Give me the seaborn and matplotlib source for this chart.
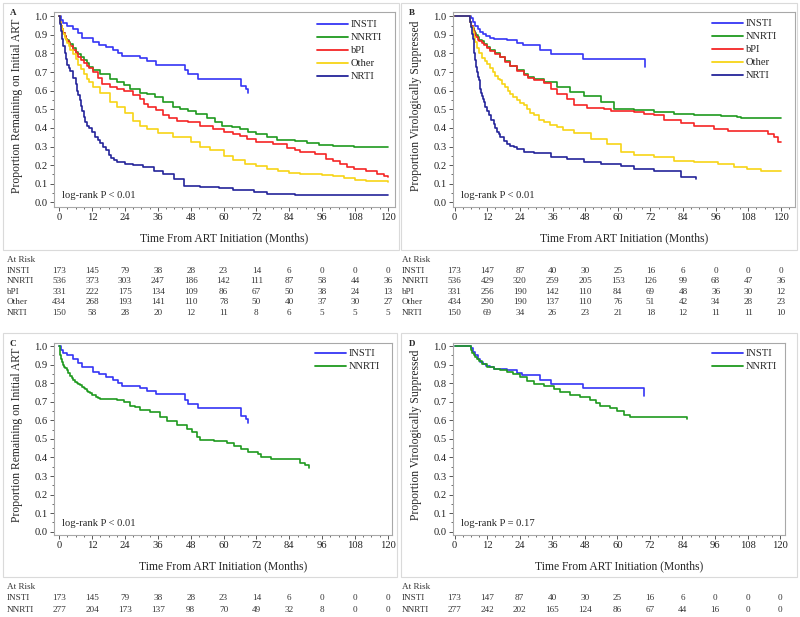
import pandas as pd
import seaborn as sns
import matplotlib.pyplot as plt
import matplotlib.transforms as mtransforms
from matplotlib.lines import Line2D
from matplotlib.patches import Rectangle
from matplotlib.ticker import MultipleLocator

# -------------------------------
# Kaplan-Meier curves (time in months, step values)
# -------------------------------
# Panel A: remaining on initial ART
a_insti_t = [0, 0.5, 1.5, 3, 5, 7, 8.5, 12.5, 14.5, 17, 19.5, 21.5, 23, 29.5, 32, 35.5, 46, 47, 50.5, 66.5, 68.3, 69]
a_insti_s = [1.0, 0.98, 0.965, 0.95, 0.93, 0.91, 0.885, 0.86, 0.848, 0.835, 0.82, 0.80, 0.787, 0.775, 0.76, 0.74, 0.71,
             0.69, 0.665, 0.625, 0.61, 0.585]

a_nnrti_t = [0, 0.3, 0.6, 1, 1.5, 2, 2.5, 3, 3.5, 4, 5, 6, 7, 8, 9, 10, 11, 12.5, 15, 18.5, 21, 23.5, 26, 29.5, 32, 35,
             38, 41.5, 44, 47, 50, 54, 57, 59.5, 63, 66, 69, 72, 76, 79.5, 86, 90.5, 95, 100, 107.5, 120]
a_nnrti_s = [1.0, 0.97, 0.95, 0.93, 0.91, 0.895, 0.88, 0.87, 0.86, 0.85, 0.83, 0.81, 0.795, 0.78, 0.765, 0.75, 0.73,
             0.71, 0.69, 0.665, 0.645, 0.628, 0.61, 0.59, 0.58, 0.565, 0.54, 0.51, 0.50, 0.49, 0.475, 0.455, 0.43, 0.41,
             0.405, 0.395, 0.38, 0.37, 0.35, 0.335, 0.33, 0.318, 0.31, 0.303, 0.297, 0.297]

a_bpi_t = [0, 0.3, 0.6, 1, 1.5, 2, 2.5, 3, 3.5, 4, 5, 6, 7, 8, 9, 10, 11, 12.5, 14, 15.5, 18.5, 21, 23.5, 27, 29.5, 31,
           32.5, 35.5, 38, 40, 43, 47, 51.5, 56, 60, 63.5, 66, 68.5, 72, 78, 83, 86, 88, 93.5, 97.5, 100, 102.5, 105,
           107.5, 112, 116, 118.5, 120]
a_bpi_s = [1.0, 0.97, 0.95, 0.93, 0.91, 0.895, 0.88, 0.865, 0.855, 0.84, 0.82, 0.80, 0.78, 0.765, 0.75, 0.735, 0.72,
           0.70, 0.67, 0.635, 0.62, 0.61, 0.60, 0.575, 0.555, 0.53, 0.51, 0.495, 0.47, 0.455, 0.436, 0.43, 0.408, 0.395,
           0.38, 0.365, 0.355, 0.34, 0.325, 0.315, 0.29, 0.28, 0.27, 0.26, 0.235, 0.22, 0.205, 0.19, 0.18, 0.17, 0.155,
           0.14, 0.135]

a_other_t = [0, 0.3, 0.6, 1, 1.5, 2, 2.5, 3, 3.5, 4, 5, 6, 7, 8, 9, 10, 11, 12.5, 15, 18.5, 21, 24, 27, 29.5, 32, 36,
             41.5, 48, 51.5, 55, 60, 63.5, 68, 72, 76, 80, 84, 88, 96, 100, 104, 108, 112, 120]
a_other_s = [1.0, 0.97, 0.95, 0.93, 0.905, 0.885, 0.87, 0.855, 0.84, 0.82, 0.795, 0.77, 0.74, 0.715, 0.69, 0.665, 0.645,
             0.62, 0.585, 0.54, 0.51, 0.48, 0.435, 0.41, 0.395, 0.375, 0.35, 0.323, 0.30, 0.28, 0.25, 0.225, 0.205, 0.195,
             0.18, 0.17, 0.16, 0.155, 0.145, 0.14, 0.13, 0.12, 0.115, 0.108]

a_nrti_t = [0, 0.3, 0.6, 1, 1.5, 2, 2.5, 3, 3.5, 4, 5, 6, 6.5, 7, 7.5, 8, 8.5, 9, 9.5, 10, 11, 12, 13, 14, 15, 16, 17,
            18, 19, 20, 21, 24, 27, 30.5, 34.5, 38, 42, 45.5, 51.5, 58.5, 63.5, 71, 76, 86, 120]
a_nrti_s = [1.0, 0.96, 0.92, 0.88, 0.84, 0.80, 0.77, 0.74, 0.72, 0.705, 0.67, 0.635, 0.60, 0.575, 0.55, 0.52, 0.49, 0.46,
            0.43, 0.41, 0.40, 0.38, 0.35, 0.335, 0.32, 0.30, 0.28, 0.255, 0.24, 0.225, 0.215, 0.205, 0.20, 0.188, 0.167,
            0.15, 0.126, 0.09, 0.08, 0.075, 0.065, 0.055, 0.045, 0.037, 0.037]

# Panel B: virologically suppressed
b_insti_t = [0, 6, 6.8, 7.6, 8.5, 9.5, 10.5, 11.5, 13, 14.5, 19.3, 23, 25, 31.5, 35.5, 47.2, 70]
b_insti_s = [1.0, 0.99, 0.97, 0.95, 0.93, 0.915, 0.905, 0.895, 0.885, 0.878, 0.87, 0.855, 0.845, 0.817, 0.797, 0.772, 0.73]

b_nnrti_t = [0, 5.8, 6.2, 6.6, 7, 7.5, 8, 8.5, 9, 10, 10.7, 12, 13.1, 15, 16.8, 18.5, 20.5, 23, 25.4, 27, 29.1, 32.8,
             37.7, 42.6, 47.5, 53.7, 58.6, 66, 73.3, 80.7, 88.1, 97.9, 104, 105.3, 120]
b_nnrti_s = [1.0, 0.97, 0.95, 0.935, 0.92, 0.91, 0.90, 0.89, 0.875, 0.865, 0.853, 0.835, 0.817, 0.80, 0.78, 0.76, 0.735,
             0.71, 0.69, 0.675, 0.664, 0.646, 0.62, 0.592, 0.574, 0.539, 0.503, 0.494, 0.488, 0.476, 0.467, 0.463, 0.458,
             0.454, 0.454]

b_bpi_t = [0, 5.8, 6.2, 6.6, 7, 7.5, 8, 8.5, 9, 10, 10.7, 12, 13.1, 15, 16.8, 18.5, 20.5, 23, 25.4, 27, 29.1, 32.8,
           35.5, 37.7, 41.4, 43.9, 48.8, 54.9, 57.4, 66, 69.7, 73.3, 77, 83.2, 88.1, 95.5, 100.4, 115.1, 117.6, 118.8, 120]
b_bpi_s = [1.0, 0.97, 0.95, 0.93, 0.915, 0.90, 0.89, 0.875, 0.865, 0.855, 0.845, 0.83, 0.815, 0.795, 0.78, 0.755, 0.735,
           0.705, 0.685, 0.67, 0.66, 0.64, 0.61, 0.583, 0.557, 0.521, 0.508, 0.503, 0.49, 0.485, 0.476, 0.467, 0.44,
           0.425, 0.408, 0.395, 0.386, 0.368, 0.35, 0.323, 0.323]

b_other_t = [0, 5.8, 6.2, 6.6, 7, 7.6, 8.2, 9, 10, 11, 12, 13, 14, 15, 16, 16.8, 17.5, 18.5, 19.5, 20.5, 21.5, 23, 24,
             25.4, 26.5, 27.8, 29.1, 31, 32.8, 35, 37.7, 40, 43.9, 50, 56.1, 61.1, 66, 73.3, 80.7, 88.1, 96.7, 102.8,
             107.7, 112.7, 120]
b_other_s = [1.0, 0.97, 0.94, 0.915, 0.89, 0.86, 0.83, 0.80, 0.775, 0.76, 0.745, 0.72, 0.70, 0.68, 0.665, 0.655, 0.635,
             0.62, 0.60, 0.583, 0.565, 0.55, 0.535, 0.521, 0.50, 0.48, 0.467, 0.445, 0.431, 0.418, 0.404, 0.39, 0.372,
             0.341, 0.314, 0.27, 0.257, 0.242, 0.224, 0.215, 0.206, 0.192, 0.18, 0.17, 0.17]

b_nrti_t = [0, 5.8, 6.1, 6.4, 6.7, 7, 7.3, 7.6, 7.9, 8.2, 8.5, 8.8, 9.2, 9.5, 9.8, 10.1, 10.4, 10.7, 11, 11.3, 11.9,
            12.5, 13.5, 14.4, 15, 15.5, 16.2, 16.8, 18, 19.3, 20.5, 21.7, 23, 25.4, 29.1, 35.3, 41.4, 47.5, 53.7, 61.1,
            66, 73.3, 79.5, 83.2, 88.7]
b_nrti_s = [1.0, 0.97, 0.94, 0.907, 0.88, 0.85, 0.80, 0.763, 0.73, 0.70, 0.675, 0.655, 0.63, 0.61, 0.59, 0.574, 0.555,
            0.54, 0.525, 0.512, 0.49, 0.467, 0.445, 0.422, 0.40, 0.38, 0.365, 0.35, 0.33, 0.314, 0.305, 0.296, 0.285,
            0.27, 0.264, 0.246, 0.233, 0.215, 0.206, 0.194, 0.18, 0.17, 0.167, 0.135, 0.126]

# Panel C: remaining on initial ART, INSTI vs NNRTI subset
c_nnrti_t = [0, 0.2, 0.4, 0.7, 1, 1.4, 1.8, 2.2, 2.7, 3.3, 4, 4.5, 5.1, 5.8, 6.5, 7, 7.6, 8.3, 9, 9.5, 10, 10.6, 11.3,
             12, 12.5, 13.5, 14.2, 14.9, 21, 23.5, 25.9, 27.5, 29.6, 33.2, 36.9, 39.4, 43, 46.7, 48.5, 50.4, 51.5, 56.5,
             61.4, 63.8, 66.3, 68.8, 72.4, 73.6, 77.3, 88, 89.9, 91.3]
c_nnrti_s = [1.0, 0.97, 0.95, 0.93, 0.915, 0.90, 0.89, 0.88, 0.87, 0.855, 0.84, 0.83, 0.815, 0.805, 0.80, 0.795, 0.788,
             0.78, 0.775, 0.768, 0.76, 0.752, 0.745, 0.738, 0.734, 0.725, 0.718, 0.713, 0.71, 0.697, 0.679, 0.67, 0.656,
             0.643, 0.616, 0.598, 0.576, 0.556, 0.535, 0.51, 0.495, 0.488, 0.48, 0.462, 0.444, 0.432, 0.42, 0.40, 0.39,
             0.371, 0.359, 0.341]

# Panel D: virologically suppressed, INSTI vs NNRTI subset
d_nnrti_t = [0, 6, 6.5, 7, 7.6, 8.2, 9, 10.1, 11.9, 14.4, 16.8, 19.3, 21.7, 24.2, 26.7, 29.1, 32.8, 36.5, 38.9, 42.6,
             46.3, 50, 52, 53.7, 57.4, 59.8, 62.3, 64.7, 85.6]
d_nnrti_s = [1.0, 0.98, 0.965, 0.95, 0.94, 0.93, 0.92, 0.905, 0.89, 0.879, 0.87, 0.86, 0.848, 0.833, 0.812, 0.797, 0.783,
             0.77, 0.752, 0.739, 0.728, 0.71, 0.695, 0.679, 0.667, 0.649, 0.63, 0.62, 0.607]

# -------------------------------
# Numbers at risk
# -------------------------------
risk_months = [0, 12, 24, 36, 48, 60, 72, 84, 96, 108, 120]
risk_a = {
    "INSTI": [173, 145, 79, 38, 28, 23, 14, 6, 0, 0, 0],
    "NNRTI": [536, 373, 303, 247, 186, 142, 111, 87, 58, 44, 36],
    "bPI": [331, 222, 175, 134, 109, 86, 67, 50, 38, 24, 13],
    "Other": [434, 268, 193, 141, 110, 78, 50, 40, 37, 30, 27],
    "NRTI": [150, 58, 28, 20, 12, 11, 8, 6, 5, 5, 5],
}
risk_b = {
    "INSTI": [173, 147, 87, 40, 30, 25, 16, 6, 0, 0, 0],
    "NNRTI": [536, 429, 320, 259, 205, 153, 126, 99, 68, 47, 36],
    "bPI": [331, 256, 190, 142, 110, 84, 69, 48, 36, 30, 12],
    "Other": [434, 290, 190, 137, 110, 76, 51, 42, 34, 28, 23],
    "NRTI": [150, 69, 34, 26, 23, 21, 18, 12, 11, 11, 10],
}
risk_c = {
    "INSTI": [173, 145, 79, 38, 28, 23, 14, 6, 0, 0, 0],
    "NNRTI": [277, 204, 173, 137, 98, 70, 49, 32, 8, 0, 0],
}
risk_d = {
    "INSTI": [173, 147, 87, 40, 30, 25, 16, 6, 0, 0, 0],
    "NNRTI": [277, 242, 202, 165, 124, 86, 67, 44, 16, 0, 0],
}

palette = {"INSTI": "#3535F5", "NNRTI": "#1F9A1F", "bPI": "#F52525", "Other": "#F7D417", "NRTI": "#24249A"}


def km_frame(curves):
    parts = [pd.DataFrame({"time": t, "surv": s, "group": g}) for g, (t, s) in curves.items()]
    return pd.concat(parts, ignore_index=True)


sns.set_theme(style="ticks")
plt.rcParams["font.family"] = ["Liberation Serif", "DejaVu Serif"]
plt.rcParams["axes.edgecolor"] = "#A8A8A8"
plt.rcParams["xtick.color"] = "#555555"
plt.rcParams["ytick.color"] = "#555555"
plt.rcParams["xtick.labelcolor"] = "#222222"
plt.rcParams["ytick.labelcolor"] = "#222222"

W, H = 800, 617
fig = plt.figure(figsize=(W / 100, H / 100), dpi=100)


def add_ax(x0, y0, x1, y1):
    return fig.add_axes([x0 / W, 1 - y1 / H, (x1 - x0) / W, (y1 - y0) / H])


panels = [
    dict(box=(54, 12, 395, 207), xlim=(-1.9, 122.6), ylim=(-0.025, 1.023), letter="A",
         ylabel="Proportion Remaining on Initial ART", pval="log-rank P < 0.01",
         curves={"INSTI": (a_insti_t, a_insti_s), "NNRTI": (a_nnrti_t, a_nnrti_s), "bPI": (a_bpi_t, a_bpi_s),
                 "Other": (a_other_t, a_other_s), "NRTI": (a_nrti_t, a_nrti_s)},
         risk=risk_a, risk_y=[260.5, 271, 281.5, 292, 302.5, 313], leg=(317, 20)),
    dict(box=(453, 12, 795, 207), xlim=(-0.6, 125.2), ylim=(-0.025, 1.023), letter="B",
         ylabel="Proportion Virologically Suppressed", pval="log-rank P < 0.01",
         curves={"INSTI": (b_insti_t, b_insti_s), "NNRTI": (b_nnrti_t, b_nnrti_s), "bPI": (b_bpi_t, b_bpi_s),
                 "Other": (b_other_t, b_other_s), "NRTI": (b_nrti_t, b_nrti_s)},
         risk=risk_b, risk_y=[260.5, 271, 281.5, 292, 302.5, 313], leg=(712, 19)),
    dict(box=(54, 343, 392, 535), xlim=(-1.9, 121.5), ylim=(-0.018, 1.017), letter="C",
         ylabel="Proportion Remaining on Initial ART", pval="log-rank P < 0.01",
         curves={"INSTI": (a_insti_t, a_insti_s), "NNRTI": (c_nnrti_t, c_nnrti_s)},
         risk=risk_c, risk_y=[587, 598.5, 610], leg=(315, 349)),
    dict(box=(453, 343, 785, 535), xlim=(-0.6, 121.8), ylim=(-0.018, 1.017), letter="D",
         ylabel="Proportion Virologically Suppressed", pval="log-rank P = 0.17",
         curves={"INSTI": (b_insti_t, b_insti_s), "NNRTI": (d_nnrti_t, d_nnrti_s)},
         risk=risk_d, risk_y=[587, 598.5, 610], leg=(712, 349)),
]

# light grey frames around each panel
for (x0, y0, x1, y1) in [(3, 3, 399, 250), (401, 3, 797, 250), (3, 333, 397, 577), (401, 333, 797, 577)]:
    fig.patches.append(Rectangle((x0 / W, 1 - y1 / H), (x1 - x0) / W, (y1 - y0) / H, transform=fig.transFigure,
                                 fill=False, edgecolor="#DADADA", lw=0.8))

for p in panels:
    x0, y0, x1, y1 = p["box"]
    bw, bh = x1 - x0, y1 - y0
    ax = add_ax(x0, y0, x1, y1)
    df = km_frame(p["curves"])
    order = list(p["curves"].keys())
    sns.lineplot(data=df, x="time", y="surv", hue="group", hue_order=order, palette=palette,
                 estimator=None, sort=False, drawstyle="steps-post", lw=1.2, legend=False, ax=ax)

    ax.set_xlim(*p["xlim"])
    ax.set_ylim(*p["ylim"])
    ax.set_xticks(risk_months)
    ax.set_yticks([i / 10 for i in range(11)])
    ax.set_yticklabels([f"{i / 10:.1f}" for i in range(11)])
    ax.xaxis.set_minor_locator(MultipleLocator(3))
    ax.yaxis.set_minor_locator(MultipleLocator(0.05))
    ax.tick_params(which="major", length=3, width=0.7, pad=1.5, labelsize=7.6)
    ax.tick_params(which="minor", length=1.6, width=0.6)
    for sp in ax.spines.values():
        sp.set_visible(True)
        sp.set_linewidth(0.8)

    ax.set_xlabel("Time From ART Initiation (Months)", fontsize=8.4, va="center")
    ax.xaxis.set_label_coords(0.5, -31 / bh)
    ax.set_ylabel(p["ylabel"], fontsize=8.4, va="center")
    ax.yaxis.set_label_coords((17 - 54) / bw, 0.52)

    ax.text(8 / bw, 12 / bh, p["pval"], transform=ax.transAxes, fontsize=7.6, ha="left", va="center")

    # legend
    lx, ly = p["leg"]
    handles = [Line2D([], [], color=palette[g], lw=1.3) for g in order]
    ax.legend(handles, order, loc="upper left", bbox_to_anchor=((lx - x0) / bw, (y1 - ly) / bh),
              frameon=False, fontsize=7.6, handlelength=2.9, handletextpad=0.3, labelspacing=0.34,
              borderpad=0, borderaxespad=0)

    # panel letter
    fig.text((x0 - 44) / W, 1 - (y0 + 1) / H, p["letter"], fontsize=6.5, fontweight="bold", ha="left", va="center")

    # at-risk table
    trans = mtransforms.blended_transform_factory(ax.transData, fig.transFigure)
    tx = 7 if x0 < 400 else 402
    fig.text(tx / W, 1 - p["risk_y"][0] / H, "At Risk", fontsize=6.6, ha="left", va="center", color="#333333")
    for ry, (g, vals) in zip(p["risk_y"][1:], p["risk"].items()):
        fig.text(tx / W, 1 - ry / H, g, fontsize=6.6, ha="left", va="center", color="#333333")
        for m, v in zip(risk_months, vals):
            fig.text(m, 1 - ry / H, str(v), transform=trans, fontsize=6.6, ha="center", va="center", color="#333333")

fig.savefig("out.png", dpi=100, facecolor="white")
